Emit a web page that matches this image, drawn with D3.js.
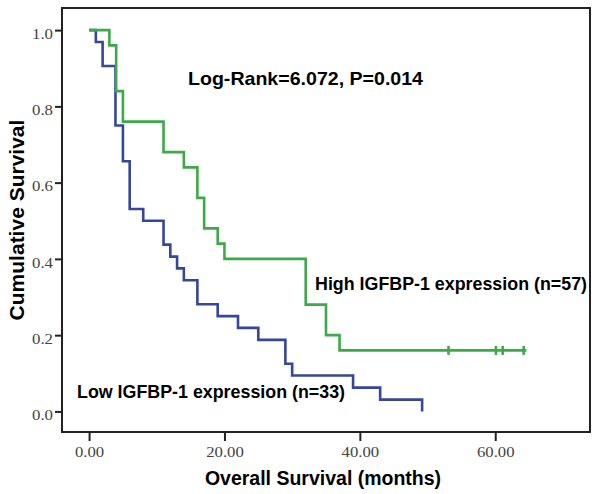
<!DOCTYPE html>
<html>
<head>
<meta charset="utf-8">
<script src="https://cdn.jsdelivr.net/npm/d3@7"></script>
<style>
  html, body { margin: 0; padding: 0; background: #fff; }
  svg { display: block; }
</style>
</head>
<body>
<svg id="chart" width="600" height="494"></svg>
<script>
// ---- Data ----
const highTimes = [0, 3, 4, 5, 11, 14, 16, 17, 19, 20, 32, 35, 37];
const highSurv  = [1.0, 0.96, 0.84, 0.76, 0.68, 0.64, 0.56, 0.48, 0.44, 0.40, 0.28, 0.20, 0.16];
const highEnd = 64.6;
const highCensored = [53.1, 60.1, 61.1, 64.2];

const lowTimes = [0, 1, 2, 3.9, 5, 6, 8, 11, 12, 13, 14, 16, 19, 22, 25, 29, 30, 39, 43, 49.2];
const lowSurv  = [1.0, 0.969, 0.906, 0.75, 0.656, 0.531, 0.50, 0.4375, 0.406, 0.375, 0.344, 0.281, 0.25, 0.219, 0.1875, 0.125, 0.094, 0.0625, 0.031, 0.0];

const xTicks = [0, 20, 40, 60];
const yTicks = [0.0, 0.2, 0.4, 0.6, 0.8, 1.0];

const labelHigh = "High IGFBP-1 expression (n=57)";
const labelLow = "Low IGFBP-1 expression (n=33)";
const statText = "Log-Rank=6.072, P=0.014";
const xTitle = "Overall Survival (months)";
const yTitle = "Cumulative Survival";

// ---- Layout ----
const svg = d3.select("#chart");
const pL = 62, pR = 590, pT = 8, pB = 432;
const x = d3.scaleLinear().domain([-4, 74]).range([pL, pR]);
const y = d3.scaleLinear().domain([-0.054, 1.058]).range([pB, pT]);

const green = "#3daa48";
const blue = "#34479b";

function stretch(sel, f) {
  sel.each(function() {
    const len = this.getComputedTextLength();
    d3.select(this).attr("textLength", len * f).attr("lengthAdjust", "spacingAndGlyphs");
  });
}

// axes
const yAxis = svg.append("g").attr("transform", `translate(${pL},0)`)
  .call(d3.axisLeft(y).tickValues(yTicks).tickFormat(d3.format(".1f")).tickSize(7).tickPadding(3).tickSizeOuter(0));
yAxis.select(".domain").remove();
yAxis.selectAll(".tick line").attr("stroke", "#222").attr("stroke-width", 2);
yAxis.selectAll(".tick text")
  .attr("font-family", "'Liberation Serif', 'DejaVu Serif', serif")
  .attr("font-size", 15).attr("fill", "#444").attr("dy", "0.55em").attr("x", -9)
  .call(stretch, 1.12);

const xAxis = svg.append("g").attr("transform", `translate(0,${pB})`)
  .call(d3.axisBottom(x).tickValues(xTicks).tickFormat(d3.format(".2f")).tickSize(9).tickPadding(6).tickSizeOuter(0));
xAxis.select(".domain").remove();
xAxis.selectAll(".tick line").attr("stroke", "#222").attr("stroke-width", 2);
xAxis.selectAll(".tick text")
  .attr("font-family", "'Liberation Serif', 'DejaVu Serif', serif")
  .attr("font-size", 14.5).attr("fill", "#444")
  .call(stretch, 1.15);

// frame
svg.append("rect").attr("x", pL).attr("y", pT)
  .attr("width", pR - pL).attr("height", pB - pT)
  .attr("fill", "none").attr("stroke", "#222").attr("stroke-width", 2);

// curves
const line = d3.line().x(d => x(d[0])).y(d => y(d[1])).curve(d3.curveStepAfter);
const lowData = lowTimes.map((t, i) => [t, lowSurv[i]]);
const highData = highTimes.map((t, i) => [t, highSurv[i]]).concat([[highEnd, highSurv[highSurv.length - 1]]]);

svg.append("path").datum(lowData).attr("d", line)
  .attr("fill", "none").attr("stroke", blue).attr("stroke-width", 2.6);
svg.append("path").datum(highData).attr("d", line)
  .attr("fill", "none").attr("stroke", green).attr("stroke-width", 2.6);

// censor marks
const lastHigh = highSurv[highSurv.length - 1];
svg.append("g").selectAll("line").data(highCensored).join("line")
  .attr("x1", d => x(d)).attr("x2", d => x(d))
  .attr("y1", y(lastHigh) - 4.5).attr("y2", y(lastHigh) + 4.5)
  .attr("stroke", green).attr("stroke-width", 2.6);

// annotations
const bold = "Arial, 'Liberation Sans', Helvetica, sans-serif";
svg.append("text").attr("x", 188).attr("y", 85).attr("font-family", bold)
  .attr("font-weight", "bold").attr("font-size", 19).attr("fill", "#000")
  .attr("textLength", 235).attr("lengthAdjust", "spacingAndGlyphs").text(statText);
svg.append("text").attr("x", 315).attr("y", 290).attr("font-family", bold)
  .attr("font-weight", "bold").attr("font-size", 18).attr("fill", "#000")
  .attr("textLength", 272).attr("lengthAdjust", "spacingAndGlyphs").text(labelHigh);
svg.append("text").attr("x", 77).attr("y", 398).attr("font-family", bold)
  .attr("font-weight", "bold").attr("font-size", 18).attr("fill", "#000")
  .attr("textLength", 268).attr("lengthAdjust", "spacingAndGlyphs").text(labelLow);

// axis titles
svg.append("text").attr("x", 323).attr("y", 485).attr("text-anchor", "middle")
  .attr("font-family", bold).attr("font-weight", "bold").attr("font-size", 19.5).attr("fill", "#000")
  .text(xTitle);
svg.append("text").attr("transform", `translate(24,${(pT + pB) / 2}) rotate(-90)`)
  .attr("text-anchor", "middle")
  .attr("font-family", bold).attr("font-weight", "bold").attr("font-size", 21).attr("fill", "#000")
  .text(yTitle);
</script>
</body>
</html>
